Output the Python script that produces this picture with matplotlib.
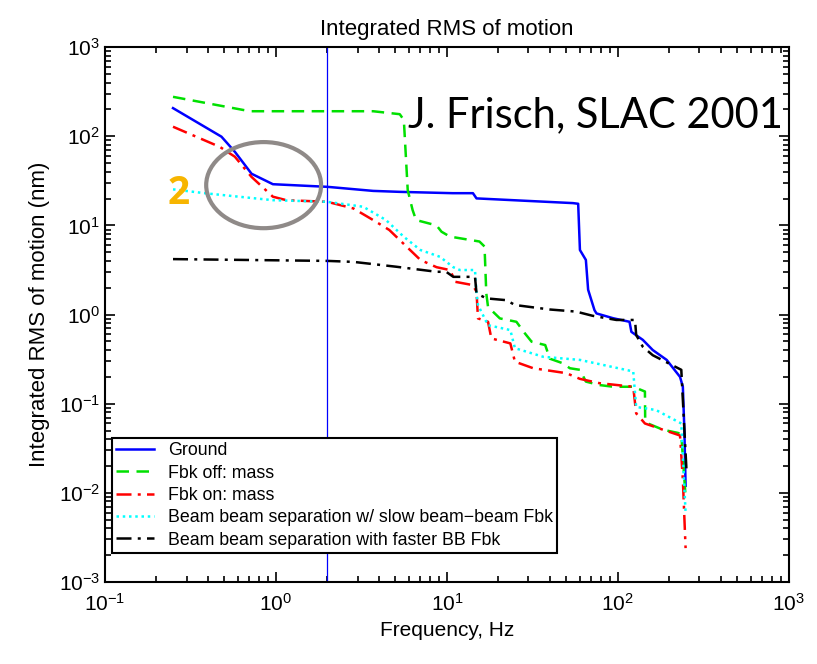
import matplotlib
matplotlib.use("Agg")
import matplotlib.pyplot as plt
from matplotlib.patches import Ellipse
from matplotlib.ticker import LogLocator, NullFormatter, LogFormatterSciNotation

plt.rcParams["font.family"] = ["Liberation Sans", "DejaVu Sans"]
plt.rcParams["mathtext.default"] = "regular"

# Ground motion
ground_f = [0.25, 0.48, 0.575, 0.72, 0.96, 2.0, 3.7, 5.3, 10.8, 14.2, 14.9, 54.6, 58.6,
            60, 65, 67, 73, 75, 93.8, 117, 120, 140, 160, 193, 231, 240, 245, 249]
ground_y = [207, 99, 67, 38, 29, 27.1, 24.4, 23.8, 23, 23, 20.1, 17.8, 17.5,
            5.3, 4.1, 1.9, 1.12, 1.03, 0.91, 0.83, 0.64, 0.52, 0.40, 0.31, 0.20, 0.155, 0.05, 0.012]

# Feedback off, mass
fbk_off_f = [0.25, 0.705, 3.7, 5.3, 5.6, 5.9, 6.3, 6.6, 8.7, 9.3, 10.4, 15.5, 16.6, 17.0,
             17.4, 20.4, 25.5, 28.6, 31.3, 37.6, 40, 47.7, 52.4, 60, 65, 78, 94, 123, 144,
             144.5, 150, 184, 225, 235, 249]
fbk_off_y = [277, 191, 191, 177, 152, 24.9, 14.9, 11.5, 10, 8.5, 7.5, 6.6, 5.8, 1.73,
             1.22, 0.906, 0.83, 0.615, 0.496, 0.455, 0.32, 0.284, 0.25, 0.24, 0.177, 0.162, 0.155, 0.155, 0.137,
             0.066, 0.06, 0.051, 0.047, 0.045, 0.009]

# Feedback on, mass
fbk_on_f = [0.25, 0.47, 0.575, 0.72, 0.96, 1.15, 2.0, 2.84, 3.7, 4.6, 5.8, 7.0, 8.7, 10.4,
            10.9, 11.2, 14.2, 14.9, 15.2, 17.4, 18.2, 23.5, 25, 32, 50, 60, 78, 123,
            128, 144, 184, 231, 240, 249]
fbk_on_y = [128, 76, 59, 35, 21, 19.2, 18.4, 15.5, 11.5, 8.9, 5.8, 4.1, 3.4, 3.16,
            2.65, 2.33, 2.14, 1.8, 0.906, 0.83, 0.54, 0.475, 0.296, 0.25, 0.22, 0.19, 0.17, 0.155,
            0.078, 0.06, 0.051, 0.044, 0.014, 0.0024]

# Beam-beam separation, slow BB feedback
bb_slow_f = [0.25, 0.39, 0.96, 2.0, 3.24, 4.4, 5.6, 7.0, 9.1, 10.9, 11.9, 14.6, 14.9, 15.2,
             17.4, 23.5, 25, 36.6, 60, 123, 128, 167, 235, 249]
bb_slow_y = [25.4, 22.9, 19.2, 18.4, 16.2, 11.5, 7.45, 5.3, 4.45, 3.4, 3.16, 3.16, 1.73, 1.28,
             0.76, 0.67, 0.42, 0.336, 0.31, 0.23, 0.092, 0.085, 0.06, 0.006]

# Beam-beam separation, faster BB feedback
bb_fast_f = [0.25, 2.0, 2.84, 5.06, 8.7, 9.9, 10.9, 14.6, 14.9, 17, 22.3, 25, 40, 57, 71,
             98, 126, 128, 140, 160, 235, 240, 252]
bb_fast_y = [4.19, 4.0, 3.9, 3.44, 3.02, 3.02, 2.65, 2.65, 1.73, 1.52, 1.45, 1.28, 1.14, 1.08, 0.97,
             0.87, 0.87, 0.59, 0.435, 0.35, 0.24, 0.11, 0.018]

marker_freq = 2.0
x_decades = [0.1, 1, 10, 100, 1000]
y_decades = [1e-3, 1e-2, 1e-1, 1, 10, 100, 1000]

fig = plt.figure(figsize=(8.17, 6.64), dpi=100)
ax = fig.add_axes([0.1285, 0.1235, 0.837, 0.8055])

ax.plot(ground_f, ground_y, color="#0000ff", lw=1.8, label="Ground")
ax.plot(fbk_off_f, fbk_off_y, color="#00e000", lw=1.8, linestyle=(0, (5, 3)),
        label="Fbk off: mass")
ax.plot(fbk_on_f, fbk_on_y, color="#ff0000", lw=1.8, linestyle=(0, (6, 2.5, 1.2, 2.5)),
        label="Fbk on: mass")
ax.plot(bb_slow_f, bb_slow_y, color="#00ffff", lw=1.8, linestyle=(0, (1, 1.5)),
        label="Beam beam separation w/ slow beam\u2212beam Fbk")
ax.plot(bb_fast_f, bb_fast_y, color="black", lw=1.8, linestyle=(0, (6, 2.5, 1.2, 2.5)),
        label="Beam beam separation with faster BB Fbk")
ax.axvline(marker_freq, color="#0000ff", lw=0.9)

ax.set_xscale("log")
ax.set_yscale("log")
ax.set_xticks(x_decades)
ax.set_yticks(y_decades)
ax.xaxis.set_major_formatter(LogFormatterSciNotation())
ax.yaxis.set_major_formatter(LogFormatterSciNotation())
ax.xaxis.set_minor_locator(LogLocator(base=10, subs=range(2, 10), numticks=20))
ax.yaxis.set_minor_locator(LogLocator(base=10, subs=range(2, 10), numticks=20))
ax.xaxis.set_minor_formatter(NullFormatter())
ax.yaxis.set_minor_formatter(NullFormatter())
ax.set_xlim(0.1, 1000)
ax.set_ylim(1e-3, 1e3)
ax.tick_params(which="both", direction="in", top=True, right=True, labelsize=15, width=1.2)
ax.tick_params(which="major", length=7)
ax.tick_params(which="minor", length=4)
ax.tick_params(axis="x", pad=8)
for s in ax.spines.values():
    s.set_linewidth(1.5)

ax.set_title("Integrated RMS of motion", fontsize=16, pad=9)
ax.set_xlabel("Frequency, Hz", fontsize=15, labelpad=4)
ax.set_ylabel("Integrated RMS of motion (nm)", fontsize=16, labelpad=6)

leg = ax.legend(loc="lower left", bbox_to_anchor=(0.01, 0.054), borderaxespad=0,
                fontsize=12.8, handlelength=2.1, fancybox=False, framealpha=1,
                labelspacing=0.3, borderpad=0.25, handletextpad=0.8)
leg.get_frame().set_edgecolor("black")
leg.get_frame().set_linewidth(1.5)

# slide annotations
ax.text(0.991, 0.85, "J. Frisch, SLAC 2001", transform=ax.transAxes, ha="right",
        va="baseline", fontsize=30, family=["Lato", "DejaVu Sans"])
ax.text(0.107, 0.727, "2", transform=ax.transAxes, ha="center", va="center",
        fontsize=28, fontweight="bold", color="#f7b500", family=["Open Sans", "DejaVu Sans"])
ax.add_patch(Ellipse((0.232, 0.742), 0.168, 0.161, transform=ax.transAxes,
                     fill=False, edgecolor="#8f8a88", lw=3, zorder=5))

plt.savefig("out.png", dpi=100)
plt.close()
